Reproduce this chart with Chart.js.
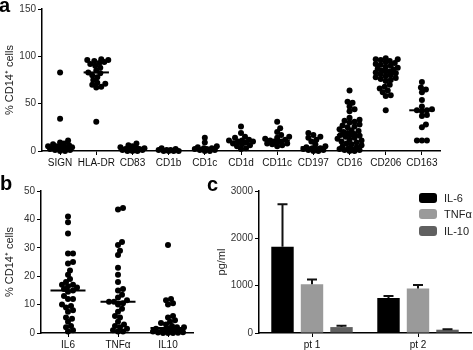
<!DOCTYPE html>
<html>
<head>
<meta charset="utf-8">
<script src="https://cdn.jsdelivr.net/npm/chart.js@4.4.1/dist/chart.umd.min.js"></script>
<style>
body { margin: 0; background: #fff; font-family: "Liberation Sans", Arial, sans-serif; }
#wrap { position: relative; width: 473px; height: 350px; overflow: hidden; }
canvas { position: absolute; }
.lab { position: absolute; font-weight: bold; font-size: 20px; line-height: 20px; color: #000; }
.box { position: absolute; left: 419px; width: 18px; height: 10px; border-radius: 3px; }
.txt { position: absolute; left: 444px; font-size: 11px; line-height: 11px; color: #222; }
</style>
</head>
<body>
<div id="wrap">
  <canvas id="chartA" width="473" height="172" style="left:0;top:0"></canvas>
  <canvas id="chartB" width="200" height="180" style="left:0;top:170px"></canvas>
  <canvas id="chartC" width="273" height="180" style="left:200px;top:170px"></canvas>
  <div class="lab" style="left:-1px;top:-5px">a</div>
  <div class="lab" style="left:0;top:173px">b</div>
  <div class="lab" style="left:207px;top:174px">c</div>
  <div class="box" style="top:193px;background:#000"></div>
  <div class="txt" style="top:193px">IL-6</div>
  <div class="box" style="top:209px;background:#9a9a9a"></div>
  <div class="txt" style="top:209px">TNFα</div>
  <div class="box" style="top:226px;background:#606060"></div>
  <div class="txt" style="top:226px">IL-10</div>
</div>
<script>
// panel a: % CD14+ cells per marker
const markers = ["SIGN", "HLA-DR", "CD83", "CD1b", "CD1c", "CD1d", "CD11c", "CD197", "CD16", "CD206", "CD163"];
const sign = [83, 34, 11, 9, 8, 7, 6, 5, 5, 5, 4, 4, 3, 3, 3, 2, 2, 1, 1, 0, 0];
const hlaDr = [97, 96, 96, 95, 94, 93, 92, 90, 88, 85, 83, 82, 80, 78, 75, 72, 71, 70, 68, 67, 31];
const cd83 = [8, 6, 5, 4, 3, 3, 2, 2, 2, 1, 1, 1, 0, 0, 0];
const cd1b = [3, 2, 1, 1, 1, 0, 0, 0, 0];
const cd1c = [14, 9, 5, 4, 3, 3, 2, 2, 1, 1, 0, 0];
const cd1d = [26, 19, 15, 14, 12, 11, 11, 10, 10, 9, 8, 7, 6, 5, 3, 2];
const cd11c = [31, 24, 20, 17, 15, 14, 13, 12, 11, 10, 10, 9, 8, 8, 7, 6, 5];
const cd197 = [19, 17, 15, 14, 12, 10, 7, 5, 4, 3, 3, 2, 2, 1, 1, 0, 0];
const cd16 = [64, 52, 51, 47, 44, 42, 35, 33, 32, 31, 30, 28, 27, 26, 25, 23, 22, 21, 20, 19, 18, 17, 17, 16,
  15, 14, 13, 12, 11, 10, 9, 8, 7, 6, 5, 4, 3, 2, 2, 1, 1, 0, 0];
const cd206 = [98, 97, 97, 96, 95, 94, 93, 92, 91, 90, 89, 88, 87, 86, 85, 84, 84, 83, 82, 81, 80, 79, 78, 77,
  76, 75, 74, 70, 68, 66, 64, 62, 59, 58, 43];
const cd163 = [73, 67, 65, 62, 54, 47, 44, 43, 43, 42, 38, 37, 28, 25, 11, 11, 11];

// panel b: cytokine positive cells
const cytokines = ["IL6", "TNFα", "IL10"];
const il6Cells = [41, 39, 35, 28, 28, 25, 24.5, 22, 20.5, 19, 18, 17, 17, 16.5, 16, 15.5, 15, 14.5, 13, 12, 12,
  10, 9.5, 9, 8, 7.5, 5.5, 5, 4, 2.5, 2, 1, 0.5];
const tnfCells = [44, 43.5, 32, 31, 29, 27.5, 23, 20.5, 18, 15.5, 15, 13.5, 12.5, 11.5, 11, 11, 10.5, 10, 8.5,
  7.5, 6, 5.5, 4, 3, 2.5, 2, 1.5, 1, 0.5, 0.5];
const il10Cells = [31, 12, 11.5, 10.5, 10, 6, 5.5, 4.5, 4, 3.5, 3, 2.5, 2, 2, 1.5, 1.5, 1, 1, 1, 0.5, 0.5, 0.5,
  0.3, 0.2, 0.1, 0, 0, 0];

// panel c: secreted cytokines, pg/ml
const patients = ["pt 1", "pt 2"];
const il6Mean = [1820, 740];
const il6Sd = [900, 40];
const tnfMean = [1030, 940];
const tnfSd = [100, 75];
const il10Mean = [125, 70];
const il10Sd = [30, 10];

const groupsA = [sign, hlaDr, cd83, cd1b, cd1c, cd1d, cd11c, cd197, cd16, cd206, cd163];
const groupsB = [il6Cells, tnfCells, il10Cells];

Chart.defaults.font.family = '"Liberation Sans", Arial, sans-serif';
Chart.defaults.color = "#222";

function median(arr) {
  const s = arr.slice().sort((a, b) => a - b);
  const m = Math.floor(s.length / 2);
  return s.length % 2 ? s[m] : (s[m - 1] + s[m]) / 2;
}

// simple beeswarm: spread points sideways within maxW px of the centre,
// letting them overlap once the band is full
function swarm(values, idx, xs, ys, minDist, maxW) {
  const placed = [];
  const pts = [];
  values.slice().sort((a, b) => a - b).forEach(v => {
    const py = ys.getPixelForValue(v);
    const cx = xs.getPixelForValue(idx);
    let best = cx, bestD = -1;
    for (let k = 0; k <= maxW * 2; k++) {
      const px = cx + Math.ceil(k / 2) * (k % 2 ? 1 : -1);
      const d = placed.reduce((m, p) => Math.min(m, Math.hypot(p[0] - px, p[1] - py)), Infinity);
      if (d >= minDist) { best = px; break; }
      if (d > bestD + 0.5) { bestD = d; best = px; }
    }
    placed.push([best, py]);
    pts.push({ x: xs.getValueForPixel(best), y: v });
  });
  return pts;
}

function dotPlot(id, cats, groups, opts) {
  const medianSets = groups.map((g, i) => ({
    type: "line",
    data: [{ x: i - 0.35, y: median(g) }, { x: i + 0.35, y: median(g) }],
    borderColor: "#000",
    borderWidth: 2,
    pointRadius: 0
  }));
  const chart = new Chart(document.getElementById(id), {
    type: "scatter",
    data: {
      datasets: [{ data: [], backgroundColor: "#000", borderWidth: 0, pointRadius: 3, clip: false }].concat(medianSets)
    },
    options: {
      responsive: false,
      animation: false,
      events: [],
      layout: { padding: opts.padding },
      plugins: { legend: { display: false }, tooltip: { enabled: false } },
      scales: {
        x: {
          type: "linear",
          min: opts.xMin,
          max: opts.xMax,
          afterBuildTicks: s => { s.ticks = cats.map((c, i) => ({ value: i })); },
          afterFit: s => { s.height = opts.xHeight; },
          ticks: { callback: v => cats[v], font: { size: 10 }, color: "#111", padding: 2, maxRotation: 0, autoSkip: false },
          grid: { drawOnChartArea: false, tickLength: 4, color: "#000" },
          border: { color: "#000", width: 1.5 }
        },
        y: {
          min: 0,
          max: opts.yMax,
          ticks: { stepSize: opts.yStep, font: { size: 10 }, color: "#333", padding: 2 },
          afterFit: s => { s.width = opts.yWidth; },
          grid: { drawOnChartArea: false, tickLength: 4, color: "#000" },
          border: { color: "#000", width: 1.5 },
          title: { display: true, text: "% CD14⁺ cells", font: { size: 11 }, color: "#222", padding: { top: 3, bottom: 0 } }
        }
      }
    }
  });
  let pts = [];
  groups.forEach((g, i) => { pts = pts.concat(swarm(g, i, chart.scales.x, chart.scales.y, 4.6, opts.spread)); });
  chart.data.datasets[0].data = pts;
  chart.update("none");
  return chart;
}

dotPlot("chartA", markers, groupsA, {
  padding: { top: 9, right: 33, left: 0, bottom: 0 },
  xMin: -0.5, xMax: 10.5, xHeight: 21, yWidth: 42, yMax: 150, yStep: 50, spread: 12
});

dotPlot("chartB", cytokines, groupsB, {
  padding: { top: 21, right: 7, left: 0, bottom: 0 },
  xMin: -0.54, xMax: 2.5, xHeight: 17, yWidth: 41, yMax: 50, yStep: 10, spread: 16
});

// error bars drawn above each bar (mean + SD)
const errorBars = {
  id: "errorBars",
  afterDatasetsDraw(chart) {
    const ctx = chart.ctx;
    const y = chart.scales.y;
    chart.data.datasets.forEach((ds, i) => {
      chart.getDatasetMeta(i).data.forEach((bar, j) => {
        const top = y.getPixelForValue(ds.data[j] + ds.errors[j]);
        ctx.save();
        ctx.strokeStyle = "#111";
        ctx.lineWidth = 2;
        ctx.beginPath();
        ctx.moveTo(bar.x, bar.y);
        ctx.lineTo(bar.x, top);
        ctx.moveTo(bar.x - 5, top);
        ctx.lineTo(bar.x + 5, top);
        ctx.stroke();
        ctx.restore();
      });
    });
  }
};

new Chart(document.getElementById("chartC"), {
  type: "bar",
  data: {
    labels: patients,
    datasets: [
      { label: "IL-6", data: il6Mean, errors: il6Sd, backgroundColor: "#000" },
      { label: "TNFα", data: tnfMean, errors: tnfSd, backgroundColor: "#9a9a9a" },
      { label: "IL-10", data: il10Mean, errors: il10Sd, backgroundColor: "#606060" }
    ]
  },
  options: {
    responsive: false,
    animation: false,
    events: [],
    layout: { padding: { top: 21, right: 2, left: 0, bottom: 0 } },
    datasets: { bar: { categoryPercentage: 0.835, barPercentage: 0.76 } },
    plugins: { legend: { display: false }, tooltip: { enabled: false } },
    scales: {
      x: {
        afterFit: s => { s.height = 17; },
        ticks: { font: { size: 10 }, color: "#111", padding: 2 },
        grid: { drawOnChartArea: false, offset: false, tickLength: 4, color: "#000" },
        border: { color: "#000", width: 1.5 }
      },
      y: {
        min: 0,
        max: 3000,
        afterFit: s => { s.width = 59; },
        ticks: { stepSize: 1000, callback: v => String(v), font: { size: 10 }, color: "#333", padding: 2 },
        grid: { drawOnChartArea: false, tickLength: 4, color: "#000" },
        border: { color: "#000", width: 1.5 },
        title: { display: true, text: "pg/ml", font: { size: 11 }, color: "#222", padding: { top: 15, bottom: 0 } }
      }
    }
  },
  plugins: [errorBars]
});
</script>
</body>
</html>
